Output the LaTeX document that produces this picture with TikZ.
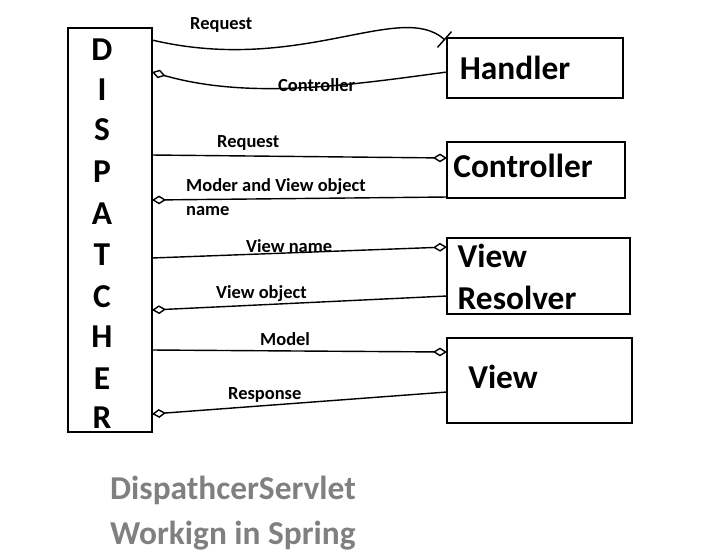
\documentclass[tikz,border=0pt]{standalone}
\usepackage{fontspec}
\setmainfont{Carlito}
\usetikzlibrary{arrows.meta}
\tikzset{
  big/.style={font=\bfseries\fontsize{19}{24}\selectfont},
  lbl/.style={font=\bfseries\fontsize{10.5}{14}\selectfont, anchor=west},
  link/.style={thick, -{Diamond[open,length=8pt,width=5pt]}},
}
\begin{document}
\begin{tikzpicture}[x=0.02cm, y=-0.02cm]
  \useasboundingbox (0,0) rectangle (720,559);
  % dispatcher column
  \draw[thick] (68,28) rectangle (152,432);
  \node (disp) at (110,230) {};
  \foreach \l/\y in {D/50,I/90,S/130,P/172,A/214,T/255,C/297,H/337,E/379,R/418}
    \node[big] at (102,\y) {\l};
  % targets
  \draw[thick] (447,38) rectangle (623,98);
  \node[big] (handler) at (515,68) {Handler};
  \draw[thick] (447,142) rectangle (625,198);
  \node[big] (ctrl) at (523,166) {Controller};
  \draw[thick] (447,238) rectangle (630,314);
  \node[big, align=left] (resolver) at (517,277) {View\\Resolver};
  \draw[thick] (447,338) rectangle (632,423);
  \node[big] (view) at (503,377) {View};
  % end points
  \coordinate (d1) at (152,40);  \coordinate (h1) at (445,40);
  \coordinate (h2) at (447,72);  \coordinate (d2) at (152,72);
  \coordinate (d3) at (152,155); \coordinate (c3) at (447,158);
  \coordinate (c4) at (447,197); \coordinate (d4) at (152,200);
  \coordinate (d5) at (152,258); \coordinate (r5) at (447,247);
  \coordinate (r6) at (447,296); \coordinate (d6) at (152,310);
  \coordinate (d7) at (152,350); \coordinate (v7) at (447,352);
  \coordinate (v8) at (447,392); \coordinate (d8) at (152,414);
  % connectors
  \draw[thick, -{Bar[width=12pt]}] (d1) .. controls (300,75) and (400,0) .. (h1);
  \draw[link] (h2) .. controls (350,85) and (250,100) .. (d2);
  \draw[link] (d3) -- (c3);
  \draw[link] (c4) -- (d4);
  \draw[link] (d5) -- (r5);
  \draw[link] (r6) -- (d6);
  \draw[link] (d7) -- (v7);
  \draw[link] (v8) -- (d8);
  % labels
  \node[lbl] at (184,25) {Request};
  \node[lbl] at (272,85) {Controller};
  \node[lbl] at (211,143) {Request};
  \node[lbl, align=left] at (180,197) {Moder and View object\\name};
  \node[lbl] at (240,246) {View name};
  \node[lbl] at (210,294) {View object};
  \node[lbl] at (254,339) {Model};
  \node[lbl] at (222,395) {Response};
  \node[font=\bfseries\fontsize{19}{20}\selectfont, text=gray, align=left, anchor=west]
    at (104,513) {DispathcerServlet\\[6pt]Workign in Spring};
\end{tikzpicture}
\end{document}
